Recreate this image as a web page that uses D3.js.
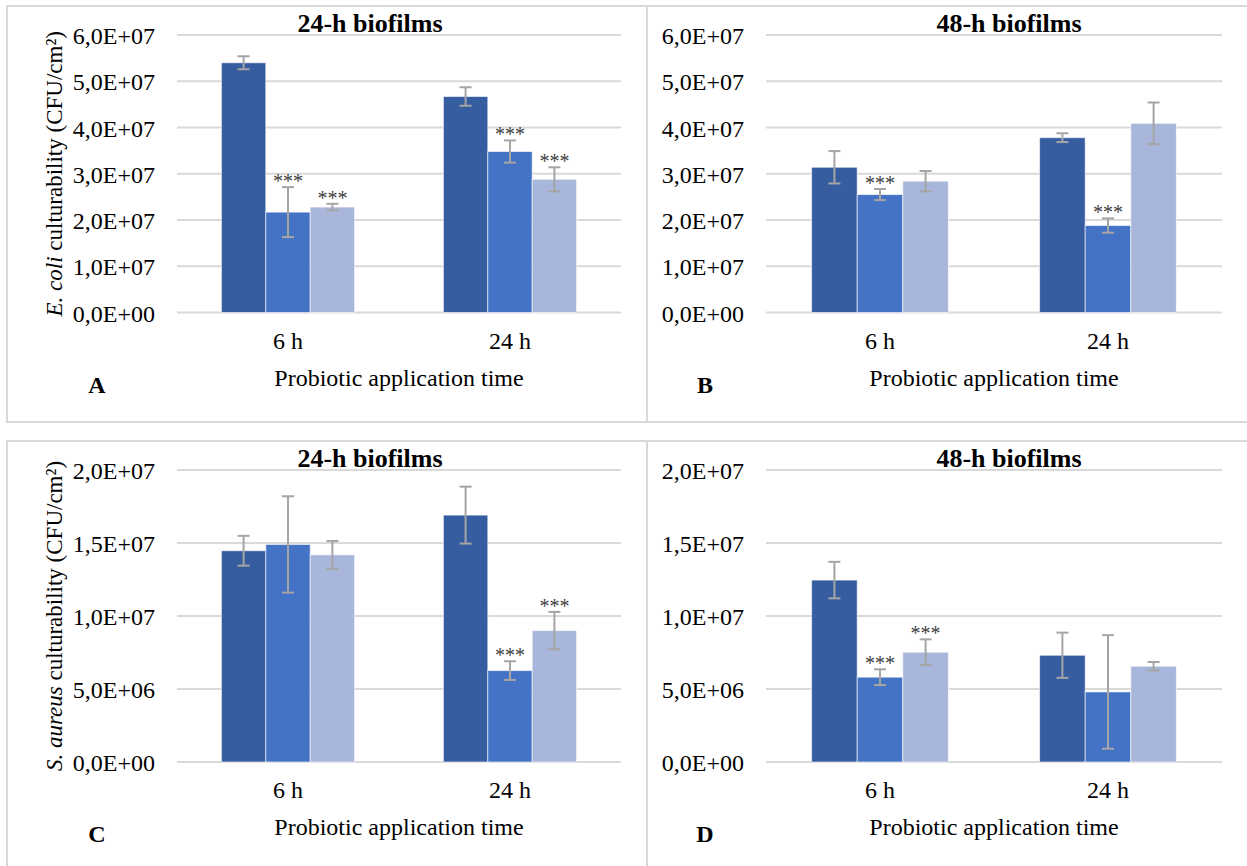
<!DOCTYPE html>
<html>
    <head>
        <style>
            body { margin: 0; background: #fff; }
            svg { display: block; background: #fff; }
        </style>
    </head>
    <body>
        <div id="chart"></div>

        <script src="https://cdnjs.cloudflare.com/ajax/libs/d3/7.8.5/d3.min.js"></script>

    <script>
        // categories and series (3 treatments per application time)
        var categories = ["6 h", "24 h"];

        // E. coli, 24-h biofilms (panel A) - one array per series
        var aMeans = [[5.40e7, 4.67e7], [2.17e7, 3.48e7], [2.28e7, 2.88e7]];
        var aErrs  = [[0.14e7, 0.20e7], [0.54e7, 0.24e7], [0.07e7, 0.26e7]];
        var aStars = [[0, 0], [1, 1], [1, 1]];

        // E. coli, 48-h biofilms (panel B)
        var bMeans = [[3.14e7, 3.78e7], [2.55e7, 1.88e7], [2.84e7, 4.09e7]];
        var bErrs  = [[0.35e7, 0.095e7], [0.12e7, 0.155e7], [0.22e7, 0.45e7]];
        var bStars = [[0, 0], [1, 1], [0, 0]];

        // S. aureus, 24-h biofilms (panel C)
        var cMeans = [[1.447e7, 1.691e7], [1.49e7, 0.626e7], [1.419e7, 0.90e7]];
        var cErrs  = [[0.102e7, 0.195e7], [0.33e7, 0.064e7], [0.095e7, 0.128e7]];
        var cStars = [[0, 0], [0, 1], [0, 1]];

        // S. aureus, 48-h biofilms (panel D)
        var dMeans = [[1.246e7, 0.731e7], [0.581e7, 0.48e7], [0.752e7, 0.656e7]];
        var dErrs  = [[0.125e7, 0.155e7], [0.054e7, 0.389e7], [0.088e7, 0.029e7]];
        var dStars = [[0, 0], [1, 0], [1, 0]];

        // tick values
        var ecoliTicks = [0, 1e7, 2e7, 3e7, 4e7, 5e7, 6e7];
        var aureusTicks = [0, 5e6, 1e7, 1.5e7, 2e7];

        var colors = ["#375DA1", "#4472C4", "#A8B6DB"];
        var serif = "'Liberation Serif', 'Times New Roman', Tinos";

        var width = 1247, height = 866;

        var svg = d3.select("#chart")
            .append("svg")
            .attr("width", width)
            .attr("height", height)
            .attr("font-family", serif);

        // panel frames
        var frames = [[7, 6, 640, 416], [647, 6, 640, 416], [7, 441, 640, 440], [647, 441, 640, 440]];
        svg.selectAll(".frame")
            .data(frames)
            .enter().append("rect")
            .attr("class", "frame")
            .attr("x", function(d) { return d[0]; })
            .attr("y", function(d) { return d[1]; })
            .attr("width", function(d) { return d[2]; })
            .attr("height", function(d) { return d[3]; })
            .attr("fill", "none")
            .attr("stroke", "#D9D9D9")
            .attr("stroke-width", 2);

        function sci(v) {
            if (v === 0) return "0,0E+00";
            var e = Math.floor(Math.log10(v) + 1e-9);
            var m = v / Math.pow(10, e);
            return m.toFixed(1).replace(".", ",") + "E+" + String(e).padStart(2, "0");
        }

        function panel(opt) {
            var g = svg.append("g");
            var y = d3.scaleLinear().domain([0, opt.max]).range([opt.y1, opt.y0]);
            var x0 = d3.scaleBand().domain(categories).range([opt.x0, opt.x1]);
            var bw = x0.bandwidth();
            var x1 = d3.scaleBand().domain([0, 1, 2]).range([bw * 0.2, bw * 0.8]);

            // gridlines
            g.selectAll(".grid")
                .data(opt.ticks)
                .enter().append("line")
                .attr("x1", opt.x0).attr("x2", opt.x1)
                .attr("y1", function(d) { return y(d); })
                .attr("y2", function(d) { return y(d); })
                .attr("stroke", "#D9D9D9")
                .attr("stroke-width", 2);

            // y tick labels
            var ya = g.append("g")
                .attr("transform", "translate(" + (opt.x0 - 14) + ",0)")
                .call(d3.axisLeft(y).tickValues(opt.ticks).tickFormat(sci).tickSize(0).tickPadding(8));
            ya.attr("font-family", serif).attr("font-size", 24);
            ya.select(".domain").remove();
            ya.selectAll("text")
                .attr("fill", "#000")
                .attr("dy", "0.36em");

            // category labels
            var xa = g.append("g")
                .attr("transform", "translate(0," + opt.y1 + ")")
                .call(d3.axisBottom(x0).tickSize(0).tickPadding(19));
            xa.attr("font-family", serif).attr("font-size", 24);
            xa.select(".domain").remove();
            xa.selectAll("text").attr("fill", "#000");

            // bars
            var rows = [];
            opt.means.forEach(function(s, si) {
                s.forEach(function(v, ci) {
                    rows.push({ s: si, c: categories[ci], v: v, e: opt.errs[si][ci], star: opt.stars[si][ci] });
                });
            });

            g.selectAll(".bar")
                .data(rows)
                .enter().append("rect")
                .attr("x", function(d) { return x0(d.c) + x1(d.s); })
                .attr("y", function(d) { return y(d.v); })
                .attr("width", x1.bandwidth())
                .attr("height", function(d) { return y(0) - y(d.v); })
                .attr("fill", function(d) { return colors[d.s]; })
                .attr("stroke", "#fff")
                .attr("stroke-opacity", 0.6)
                .attr("stroke-width", 1);

            // error bars
            var eb = g.selectAll(".err")
                .data(rows)
                .enter().append("g")
                .attr("stroke", "#A5A5A5")
                .attr("stroke-width", 2);
            function cx(d) { return x0(d.c) + x1(d.s) + x1.bandwidth() / 2; }
            eb.append("line")
                .attr("x1", cx).attr("x2", cx)
                .attr("y1", function(d) { return y(d.v + d.e); })
                .attr("y2", function(d) { return y(d.v - d.e); });
            eb.append("line")
                .attr("x1", function(d) { return cx(d) - 6; })
                .attr("x2", function(d) { return cx(d) + 6; })
                .attr("y1", function(d) { return y(d.v + d.e); })
                .attr("y2", function(d) { return y(d.v + d.e); });
            eb.append("line")
                .attr("x1", function(d) { return cx(d) - 6; })
                .attr("x2", function(d) { return cx(d) + 6; })
                .attr("y1", function(d) { return y(d.v - d.e); })
                .attr("y2", function(d) { return y(d.v - d.e); });

            // significance marks
            g.selectAll(".star")
                .data(rows.filter(function(d) { return d.star; }))
                .enter().append("text")
                .attr("x", cx)
                .attr("y", function(d) { return y(d.v + d.e) + 1; })
                .attr("text-anchor", "middle")
                .attr("font-size", 20)
                .attr("fill", "#404040")
                .text("***");

            // chart title
            g.append("text")
                .attr("x", opt.titleX)
                .attr("y", opt.y0 - 3)
                .attr("text-anchor", "middle")
                .attr("font-size", 26)
                .attr("font-weight", "bold")
                .text(opt.title);

            // x axis title
            g.append("text")
                .attr("x", (opt.x0 + opt.x1) / 2)
                .attr("y", opt.y1 + 73)
                .attr("text-anchor", "middle")
                .attr("font-size", 24)
                .text("Probiotic application time");

            // panel letter
            g.append("text")
                .attr("x", opt.letterX)
                .attr("y", opt.y1 + 80)
                .attr("text-anchor", "middle")
                .attr("font-size", 24)
                .attr("font-weight", "bold")
                .text(opt.letter);

            // y axis title
            if (opt.yItalic) {
                var yt = g.append("text")
                    .attr("transform", "translate(62," + (opt.y0 + opt.y1) / 2 + ") rotate(-90)")
                    .attr("text-anchor", "middle")
                    .attr("font-size", 23);
                yt.append("tspan").attr("font-style", "italic").text(opt.yItalic);
                yt.append("tspan").text(" culturability (CFU/cm\u00B2)");
            }
        }

        panel({ x0: 177, x1: 621, y0: 35, y1: 312.5, max: 6e7, ticks: ecoliTicks,
            means: aMeans, errs: aErrs, stars: aStars, title: "24-h biofilms", titleX: 370,
            letter: "A", letterX: 97, yItalic: "E. coli" });
        panel({ x0: 766, x1: 1222, y0: 35, y1: 312.5, max: 6e7, ticks: ecoliTicks,
            means: bMeans, errs: bErrs, stars: bStars, title: "48-h biofilms", titleX: 1009,
            letter: "B", letterX: 705 });
        panel({ x0: 177, x1: 621, y0: 470, y1: 762, max: 2e7, ticks: aureusTicks,
            means: cMeans, errs: cErrs, stars: cStars, title: "24-h biofilms", titleX: 370,
            letter: "C", letterX: 97, yItalic: "S. aureus" });
        panel({ x0: 766, x1: 1222, y0: 470, y1: 762, max: 2e7, ticks: aureusTicks,
            means: dMeans, errs: dErrs, stars: dStars, title: "48-h biofilms", titleX: 1009,
            letter: "D", letterX: 705 });
    </script>
    </body>
</html>
